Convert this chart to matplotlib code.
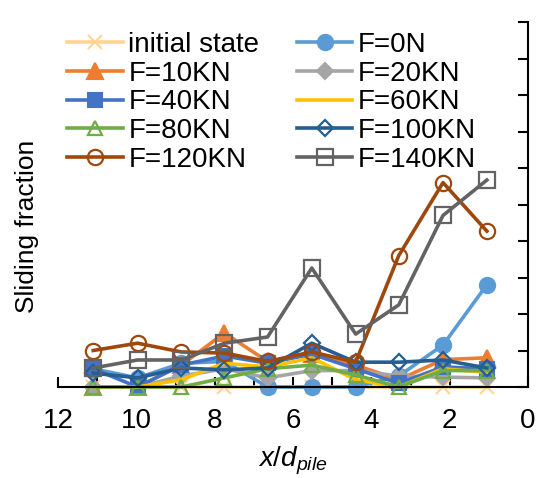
import matplotlib
matplotlib.use("Agg")
import matplotlib.pyplot as plt
from matplotlib.ticker import MultipleLocator

plt.rcParams['font.family'] = ['Liberation Sans', 'DejaVu Sans']
plt.rcParams['mathtext.fontset'] = 'custom'
plt.rcParams['mathtext.it'] = 'Liberation Sans:italic'
plt.rcParams['mathtext.rm'] = 'Liberation Sans'

x = [11.1, 9.97, 8.85, 7.75, 6.65, 5.52, 4.4, 3.3, 2.17, 1.05]
initial = [0, 0, 0, 0, 0, 0, 0, 0, 0, 0]
f0 = [0.05, 0.025, 0.065, 0.07, 0.0, 0.0, 0.0, 0.03, 0.115, 0.28]
f10 = [0.0, 0.0, 0.06, 0.148, 0.07, 0.09, 0.06, 0.02, 0.075, 0.08]
f20 = [0.0, 0.0, 0.03, 0.05, 0.025, 0.045, 0.045, 0.03, 0.027, 0.025]
f40 = [0.05, 0.0, 0.06, 0.085, 0.065, 0.09, 0.05, 0.01, 0.055, 0.05]
f60 = [0.0, 0.0, 0.02, 0.065, 0.055, 0.08, 0.02, 0.0, 0.05, 0.04]
f80 = [0.0, 0.0, 0.0, 0.025, 0.05, 0.06, 0.033, 0.0, 0.045, 0.045]
f100 = [0.038, 0.025, 0.052, 0.047, 0.052, 0.12, 0.068, 0.068, 0.074, 0.052]
f120 = [0.1, 0.12, 0.096, 0.093, 0.07, 0.096, 0.068, 0.36, 0.56, 0.427]
f140 = [0.052, 0.074, 0.074, 0.12, 0.137, 0.326, 0.145, 0.225, 0.47, 0.567]

labels = ["initial state", "F=0N", "F=10KN", "F=20KN", "F=40KN", "F=60KN",
          "F=80KN", "F=100KN", "F=120KN", "F=140KN"]
series = [initial, f0, f10, f20, f40, f60, f80, f100, f120, f140]
colors = ["#FFD591", "#5B9BD5", "#ED7D31", "#A5A5A5", "#4472C4", "#FFC000",
          "#70AD47", "#255E91", "#9E480E", "#636363"]
markers = ["x", "o", "^", "D", "s", None, "^", "D", "o", "s"]
filled = [True, True, True, True, True, True, False, False, False, False]
msizes = [10, 11, 11, 8, 10, 0, 10, 8, 11, 11]

fig = plt.figure(figsize=(5.38, 4.78), dpi=100)
ax = fig.add_axes([58/538, 1-387/478, 470/538, 365/478])

handles = {}
for lab, ys, c, m, f, ms in zip(labels, series, colors, markers, filled, msizes):
    kw = dict(color=c, lw=2.6, clip_on=False)
    if m is not None:
        kw.update(marker=m, markersize=ms, markeredgewidth=1.6 if not f else 1.5,
                  markeredgecolor=c, markerfacecolor=(c if f else 'none'))
    h, = ax.plot(x, ys, label=lab, **kw)
    handles[lab] = h

ax.set_xlim(12, 0)
ax.set_ylim(0, 1)
for s in ['top', 'left']:
    ax.spines[s].set_visible(False)
for s in ['bottom', 'right']:
    ax.spines[s].set_linewidth(1.5)
ax.xaxis.set_major_locator(MultipleLocator(2))
ax.xaxis.set_minor_locator(MultipleLocator(1))
ax.yaxis.set_major_locator(MultipleLocator(0.1))
ax.yaxis.tick_right()
ax.tick_params(axis='x', which='both', direction='in', length=7, width=1.5,
               labelsize=20, pad=15)
ax.tick_params(axis='y', which='both', direction='in', length=7, width=1.5,
               labelright=False, labelleft=False, left=False, right=True)
ax.set_xticks([12, 10, 8, 6, 4, 2, 0])
ax.set_xticklabels(["12", "10", "8", "6", "4", "2", "0"])

ax.set_xlabel(r"$x/d_{pile}$", fontsize=20, labelpad=8)
ax.set_ylabel("Sliding fraction", fontsize=19)
ax.yaxis.set_label_position('left')
ax.yaxis.set_label_coords(-0.04, 0.44)

order = ["initial state", "F=10KN", "F=40KN", "F=80KN", "F=120KN",
         "F=0N", "F=20KN", "F=60KN", "F=100KN", "F=140KN"]
leg = ax.legend([handles[o] for o in order], order, ncol=2, fontsize=20,
                frameon=False, loc='upper left', bbox_to_anchor=(-0.016, 1.019),
                handlelength=2.0, handletextpad=0.2, columnspacing=1.35,
                labelspacing=0.1, borderaxespad=0.2)

fig.savefig("out.png", dpi=100)
